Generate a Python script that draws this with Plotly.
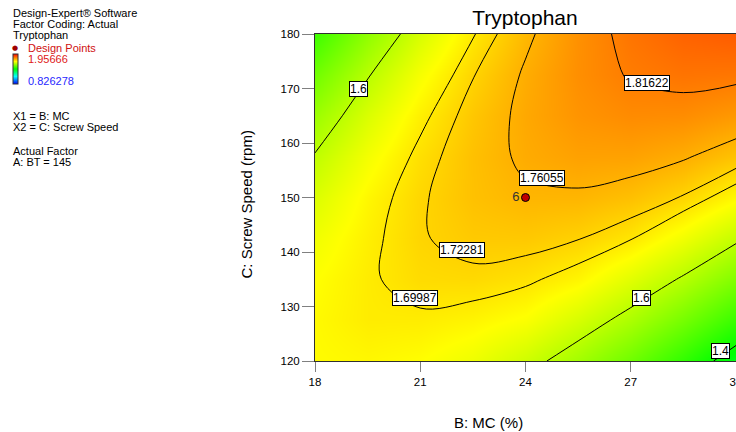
import plotly.graph_objects as go

# B: MC (%) and C: Screw Speed (rpm) grid, A: BT held at 145
mc = [18, 19.5, 21, 22.5, 24, 25.5, 27, 28.5, 30]
speed = [120, 127.5, 135, 142.5, 150, 157.5, 165, 172.5, 180]

# tryptophan (rows = speed, cols = mc)
tryptophan = [
    [1.6775, 1.6821, 1.6748, 1.6556, 1.6195, 1.5716, 1.5138, 1.4451, 1.3665],
    [1.6793, 1.6947, 1.6942, 1.6858, 1.6696, 1.6295, 1.5815, 1.5226, 1.4548],
    [1.6729, 1.6951, 1.7134, 1.7158, 1.7064, 1.6851, 1.6419, 1.5938, 1.5349],
    [1.6581, 1.6911, 1.7202, 1.7335, 1.7348, 1.7243, 1.7020, 1.6597, 1.6096],
    [1.6350, 1.6828, 1.7188, 1.7428, 1.7550, 1.7553, 1.7438, 1.7203, 1.6800],
    [1.6036, 1.6622, 1.7090, 1.7438, 1.7668, 1.7780, 1.7772, 1.7646, 1.7401],
    [1.5639, 1.6333, 1.6909, 1.7366, 1.7704, 1.7923, 1.8024, 1.8006, 1.7869],
    [1.5158, 1.5961, 1.6645, 1.7210, 1.7656, 1.7983, 1.8192, 1.8282, 1.8253],
    [1.4595, 1.5506, 1.6298, 1.6971, 1.7525, 1.7961, 1.8278, 1.8476, 1.8555],
]

levels = [1.4, 1.6, 1.69987, 1.72281, 1.76055, 1.81622]
z_min, z_max = 0.826278, 1.95666

design_mc = [24]
design_speed = [150]
design_reps = ["6"]

# where the level labels sit (text, mc, speed)
contour_labels = [
    ("1.6", 19.23, 169.85),
    ("1.81622", 27.46, 171.1),
    ("1.76055", 24.46, 153.5),
    ("1.72281", 22.2, 140.4),
    ("1.69987", 20.85, 131.65),
    ("1.6", 27.31, 131.6),
    ("1.4", 29.57, 121.9),
]

W, H = 736, 432
FONT = "Liberation Sans, Arial, sans-serif"
rainbow = [[0, "rgb(0,0,255)"], [0.25, "rgb(0,255,255)"], [0.5, "rgb(0,255,0)"],
           [0.75, "rgb(255,255,0)"], [1, "rgb(255,0,0)"]]

fig = go.Figure()

# smooth colour fill, its colorbar doubles as the little legend bar
fig.add_trace(go.Heatmap(
    x=mc, y=speed, z=tryptophan, zsmooth="best",
    zmin=z_min, zmax=z_max, colorscale=rainbow, hoverinfo="skip",
    colorbar=dict(x=13 / W, xanchor="left", y=1 - 54 / H, yanchor="top",
                  len=30, lenmode="pixels", thickness=5, xpad=0, ypad=0,
                  outlinewidth=1, outlinecolor="#333", ticks="",
                  showticklabels=False),
))

# one contour trace per (unevenly spaced) level
for lv in levels:
    fig.add_trace(go.Contour(
        x=mc, y=speed, z=tryptophan, showscale=False, hoverinfo="skip",
        contours=dict(start=lv, end=lv, size=1, coloring="none"),
        line=dict(color="black", width=1, smoothing=1),
    ))

fig.add_trace(go.Scatter(
    x=design_mc, y=design_speed, mode="markers+text", text=design_reps,
    textposition="middle left", textfont=dict(size=13, color="#333", family=FONT),
    marker=dict(size=8, color="#c00000", line=dict(color="black", width=1)),
    hoverinfo="skip", showlegend=False,
))

ann = []
for txt, xv, yv in contour_labels:
    ann.append(dict(x=xv, y=yv, xref="x", yref="y", text=txt, showarrow=False,
                    font=dict(size=12, color="black", family=FONT),
                    bgcolor="white", bordercolor="black", borderwidth=1, borderpad=0))

# left hand notes
notes = [
    ("Design-Expert® Software", 11, 13, "black"),
    ("Factor Coding: Actual", 11, 24, "black"),
    ("Tryptophan", 11, 35, "black"),
    ("Design Points", 26, 47.5, "#d01010"),
    ("1.95666", 26, 59, "#e01818"),
    ("0.826278", 26, 81, "#2828ff"),
    ("X1 = B: MC", 11, 116, "black"),
    ("X2 = C: Screw Speed", 11, 127, "black"),
    ("Actual Factor", 11, 150.5, "black"),
    ("A: BT = 145", 11, 162, "black"),
]
for txt, px, py, col in notes:
    ann.append(dict(x=px / W, y=1 - py / H, xref="paper", yref="paper", text=txt,
                    xanchor="left", yanchor="middle", showarrow=False,
                    font=dict(size=11, color=col, family=FONT)))
ann.append(dict(x=15 / W, y=1 - 47.5 / H, xref="paper", yref="paper", text="●",
                xanchor="center", yanchor="middle", showarrow=False,
                font=dict(size=7, color="#a00000", family="DejaVu Sans")))

# axis titles
ann.append(dict(x=525 / W, y=1 - 422 / H, xref="paper", yref="paper", text="B: MC (%)",
                showarrow=False, yanchor="middle",
                font=dict(size=15, color="black", family=FONT)))
ann.append(dict(x=236 / W, y=1 - 205 / H, xref="paper", yref="paper",
                text="C: Screw Speed (rpm)", textangle=-90, showarrow=False,
                font=dict(size=15, color="black", family=FONT)))

fig.update_layout(
    template="none",
    width=W, height=H, autosize=False,
    margin=dict(l=0, r=0, t=0, b=0, pad=0, autoexpand=False),
    paper_bgcolor="white", plot_bgcolor="white", showlegend=False,
    title=dict(text="Tryptophan", x=525 / W, xanchor="center", y=1 - 18 / H,
               yanchor="middle", yref="container",
               font=dict(size=21, color="black", family=FONT)),
    xaxis=dict(domain=[315 / W, 1], range=[18, 30], tickvals=[18, 21, 24, 27, 30],
               ticks="outside", ticklen=10, tickcolor="#808080", showline=True,
               linecolor="#303030", mirror=True, showgrid=False, zeroline=False,
               automargin=False, ticklabeloverflow="allow",
               tickfont=dict(size=11.5, color="black", family=FONT)),
    yaxis=dict(domain=[71 / H, 398 / H], range=[120, 180], dtick=10,
               ticks="outside", ticklen=12, tickcolor="#808080", showline=True,
               linecolor="#303030", mirror=True, showgrid=False, zeroline=False,
               automargin=False,
               tickfont=dict(size=11.5, color="black", family=FONT)),
    annotations=ann,
)

fig.write_html("out.html", config={"displayModeBar": False},
               post_script="document.body.style.margin='0';")
